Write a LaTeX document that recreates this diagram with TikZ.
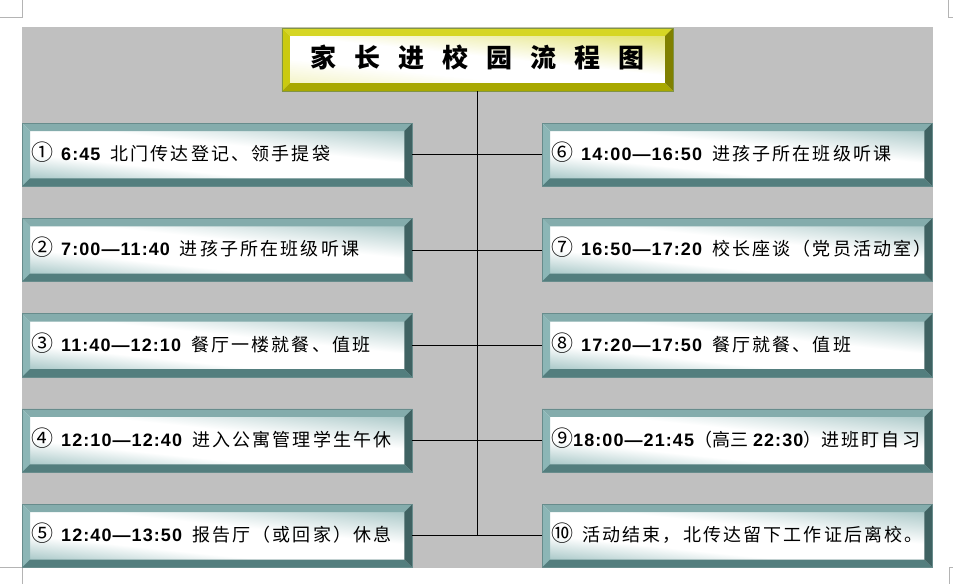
\documentclass[tikz,border=0pt]{standalone}
\usepackage{fontspec}
\setmainfont{Liberation Sans}
\newfontfamily\cjk[LetterSpace=12]{Noto Sans CJK SC}
\newfontfamily\cjkt{Noto Sans CJK SC}
\newfontfamily\num[LetterSpace=6]{Liberation Sans}
\usetikzlibrary{calc}
\definecolor{bggrey}{HTML}{C0C0C0}
\definecolor{crop}{HTML}{B4B4B4}
\definecolor{tltop}{HTML}{84ACAC}
\definecolor{tlleft}{HTML}{8CB6B6}
\definecolor{tlbot}{HTML}{537E7E}
\definecolor{tlright}{HTML}{3F6262}
\definecolor{tledge}{HTML}{6E9E9E}
\definecolor{tlin}{HTML}{9CC0C0}
\definecolor{tlin2}{HTML}{A4C4C4}
\definecolor{ytop}{HTML}{D6D624}
\definecolor{yleft}{HTML}{CACA10}
\definecolor{ybot}{HTML}{A8A800}
\definecolor{yright}{HTML}{808000}
\definecolor{yin}{HTML}{E0E066}
\definecolor{yin2}{HTML}{F2F2C0}
\pgfdeclareverticalshading{tlshade}{100bp}{color(0bp)=(tlin); color(25bp)=(tlin); color(40bp)=(white); color(56bp)=(white); color(75bp)=(tlin2); color(100bp)=(tlin2)}
\pgfdeclareverticalshading{yshade}{100bp}{color(0bp)=(yin2); color(25bp)=(yin2); color(40bp)=(white); color(52bp)=(white); color(75bp)=(yin); color(100bp)=(yin)}
\newcommand\bev[6]{%
  \fill[#3] (#1.north west) -- (#1.north east) -- ($(#1.north east)+(-#2,-#2)$) -- ($(#1.north west)+(#2,-#2)$) -- cycle;
  \fill[#4] (#1.north west) -- ($(#1.north west)+(#2,-#2)$) -- ($(#1.south west)+(#2,#2)$) -- (#1.south west) -- cycle;
  \fill[#5] (#1.south west) -- ($(#1.south west)+(#2,#2)$) -- ($(#1.south east)+(-#2,#2)$) -- (#1.south east) -- cycle;
  \fill[#6] (#1.north east) -- (#1.south east) -- ($(#1.south east)+(-#2,#2)$) -- ($(#1.north east)+(-#2,-#2)$) -- cycle;
  \draw[#4!70!black!60!tledge, line width=0.6pt] (#1.north west) rectangle (#1.south east);
}
\newcommand\cn[1]{{\cjkt\fontsize{22}{22}\selectfont #1}}
\newcommand\nm[1]{{\num\bfseries #1}}
\tikzset{
  stepbox/.style={anchor=north west, minimum width=390pt, minimum height=63pt,
    inner xsep=9pt, inner ysep=0pt, text width=372pt, align=left,
    shading=tlshade, shading angle=-6,
    font=\fontsize{18}{20}\selectfont},
  steptext/.style={anchor=west, inner sep=0pt, font=\fontsize{18}{20}\selectfont},
  titlebox/.style={minimum width=391pt, minimum height=63pt, inner sep=0pt,
    shading=yshade, shading angle=-6},
  link/.style={line width=1pt, black}
}
\begin{document}
\begin{tikzpicture}[x=1pt,y=-1pt]
\useasboundingbox (0,0) rectangle (953,584);
\fill[bggrey] (22,27) rectangle (933,568);
% crop marks
\draw[crop, line width=0.8pt] (22,0) -- (22,17) -- (0,17);
\draw[crop, line width=0.8pt] (948,0) -- (948,17) -- (953,17);
\draw[crop, line width=0.8pt] (0,567) -- (22,567) -- (22,584);
\draw[crop, line width=0.8pt] (953,567) -- (949,567) -- (949,584);
% title
\node[titlebox] (t) at (477.5,59.5) {};
\bev{t}{8pt}{ytop}{yleft}{ybot}{yright}
\node[font=\cjkt\bfseries\fontsize{26}{28}\selectfont] (tt) at ($(t.center)+(0pt,2pt)$)
  {家\hspace{18pt}长\hspace{18pt}进\hspace{18pt}校\hspace{18pt}园\hspace{18pt}流\hspace{18pt}程\hspace{18pt}图};
% boxes
\node[stepbox] (b1) at (22,123) {};
\node[stepbox] (b2) at (22,218.3) {};
\node[stepbox] (b3) at (22,313.6) {};
\node[stepbox] (b4) at (22,408.9) {};
\node[stepbox] (b5) at (22,504.2) {};
\node[stepbox] (b6) at (542,123) {};
\node[stepbox] (b7) at (542,218.3) {};
\node[stepbox] (b8) at (542,313.6) {};
\node[stepbox] (b9) at (542,408.9) {};
\node[stepbox] (b10) at (542,504.2) {};
\foreach \n in {1,...,10}{\bev{b\n}{8pt}{tltop}{tlleft}{tlbot}{tlright}}
% texts
\node[steptext] (x1) at ($(b1.west)+(9pt,2.5pt)$) {\cn{①}\hspace{8pt}\nm{6:45}\hspace{10pt}{\cjk 北门传达登记、领手提袋}};
\node[steptext] (x2) at ($(b2.west)+(9pt,2.5pt)$) {\cn{②}\hspace{8pt}\nm{7:00—11:40}\hspace{10pt}{\cjk 进孩子所在班级听课}};
\node[steptext] (x3) at ($(b3.west)+(9pt,2.5pt)$) {\cn{③}\hspace{8pt}\nm{11:40—12:10}\hspace{10pt}{\cjk 餐厅一楼就餐、值班}};
\node[steptext] (x4) at ($(b4.west)+(9pt,2.5pt)$) {\cn{④}\hspace{8pt}\nm{12:10—12:40}\hspace{10pt}{\cjk 进入公寓管理学生午休}};
\node[steptext] (x5) at ($(b5.west)+(9pt,2.5pt)$) {\cn{⑤}\hspace{8pt}\nm{12:40—13:50}\hspace{10pt}{\cjk 报告厅（或回家）休息}};
\node[steptext] (x6) at ($(b6.west)+(9pt,2.5pt)$) {\cn{⑥}\hspace{8pt}\nm{14:00—16:50}\hspace{10pt}{\cjk 进孩子所在班级听课}};
\node[steptext] (x7) at ($(b7.west)+(9pt,2.5pt)$) {\cn{⑦}\hspace{8pt}\nm{16:50—17:20}\hspace{10pt}{\cjk 校长座谈（党员活动室）}};
\node[steptext] (x8) at ($(b8.west)+(9pt,2.5pt)$) {\cn{⑧}\hspace{8pt}\nm{17:20—17:50}\hspace{10pt}{\cjk 餐厅就餐、值班}};
\node[steptext] (x9) at ($(b9.west)+(9pt,2.5pt)$) {\cn{⑨}\nm{18:00—21:45}{\cjkt （高三}\hspace{5pt}\nm{22:30}{\cjkt ）}{\cjk 进班盯自习}};
\node[steptext] (x10) at ($(b10.west)+(9pt,2.5pt)$) {\cn{⑩}\hspace{9pt}{\cjk 活动结束，北传达留下工作证后离校。}};
% connectors
\draw[link] (t.south) -- (t.south |- b5.east);
\foreach \a/\b in {1/6,2/7,3/8,4/9,5/10}{\draw[link] (b\a.east) -- (b\b.west);}
\end{tikzpicture}
\end{document}
